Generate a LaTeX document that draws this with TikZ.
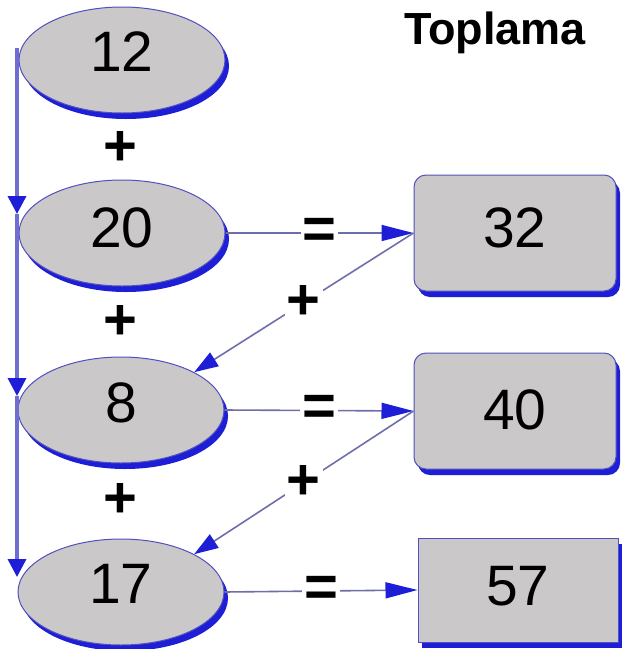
\documentclass[tikz,border=0pt]{standalone}
\usepackage{fontspec}
\setmainfont{Liberation Sans}
\usetikzlibrary{arrows.meta,calc,shapes.geometric}
\definecolor{fillgray}{RGB}{202,200,200}
\definecolor{shadowblue}{RGB}{30,30,215}
\definecolor{edgeblue}{RGB}{80,80,190}
\definecolor{linegray}{RGB}{110,110,170}
\definecolor{vblue}{RGB}{110,110,210}
\tikzset{
  oval/.style={ellipse,draw=edgeblue,line width=1pt,fill=fillgray,minimum width=206pt,minimum height=106pt,inner sep=0pt,
    font=\fontsize{57}{60}\selectfont,
    preaction={fill=shadowblue,transform canvas={shift={(4pt,-6pt)}}}},
  rbox/.style={rectangle,rounded corners=12pt,draw=edgeblue,line width=1pt,fill=fillgray,minimum width=202pt,minimum height=116pt,inner sep=0pt,
    font=\fontsize{57}{60}\selectfont,
    preaction={fill=shadowblue,transform canvas={shift={(4pt,-6pt)}}}},
  sbox/.style={rectangle,draw=edgeblue,line width=1pt,fill=fillgray,minimum width=200pt,minimum height=104pt,inner sep=0pt,
    font=\fontsize{57}{60}\selectfont,
    preaction={fill=shadowblue,transform canvas={shift={(4pt,-6pt)}}}},
  op/.style={font=\fontsize{58}{60}\selectfont\bfseries,inner sep=1pt},
  eqlink/.style={draw=linegray,line width=1.6pt,-{Triangle[length=32pt,width=16pt,fill=shadowblue,color=shadowblue]}},
  pluslink/.style={draw=linegray,line width=1.6pt,-{Triangle[length=24pt,width=16pt,fill=shadowblue,color=shadowblue]}},
  vlink/.style={draw=vblue,line width=3.5pt,-{Triangle[length=18pt,width=18pt,fill=shadowblue,color=shadowblue]}},
  lbl/.style={fill=white,font=\fontsize{58}{60}\selectfont\bfseries,inner sep=2pt}
}
\begin{document}
\begin{tikzpicture}[x=1pt,y=-1pt]
\useasboundingbox (0,0) rectangle (623,649);
\node[font=\fontsize{45}{48}\selectfont\bfseries] (title) at (495,33) {Toplama};
\node[oval] (e12) at (122,60) {\raisebox{16pt}{12}};
\node[oval] (e20) at (122,233) {\raisebox{10pt}{20}};
\node[oval] (e8) at (121,410) {\raisebox{14pt}{8}};
\node[oval] (e17) at (121,592) {\raisebox{16pt}{17}};
\node[rbox] (b32) at (515,233) {\raisebox{10pt}{32}};
\node[rbox] (b40) at (515,411) {\raisebox{3pt}{40}};
\node[sbox] (b57) at (518,590) {\raisebox{9pt}{57}};
\node[op] (p1) at (120,148) {+};
\node[op] (p2) at (120,322) {+};
\node[op] (p3) at (120,500) {+};
\coordinate (vtop) at (17,48);
\coordinate (v20) at (17,214);
\coordinate (v8) at (17,396);
\coordinate (v17) at (17,577);
\draw[vlink] (vtop) -- (v20);
\draw[vlink] (v20) -- (v8);
\draw[vlink] (v8) -- (v17);
\draw[eqlink] (e20.east) -- node[lbl] {=} (b32.west);
\draw[eqlink] (e8.east) -- node[lbl] {=} (b40.west);
\draw[eqlink] (e17.east) -- node[lbl] {=} (b57.west);
\draw[pluslink] (b32.west) -- node[lbl] {+} (e8.north east);
\draw[pluslink] (b40.west) -- node[lbl] {+} (e17.north east);
\end{tikzpicture}
\end{document}
